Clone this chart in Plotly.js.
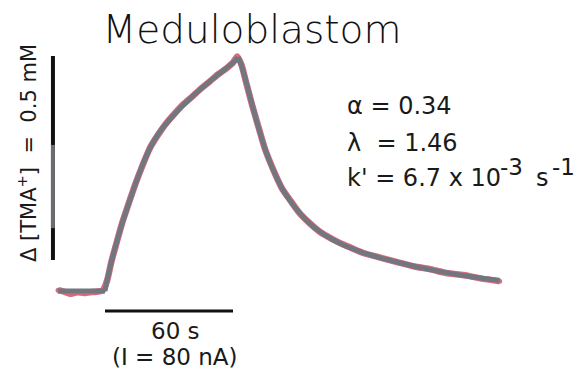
<!DOCTYPE html>
<html>
<head>
<meta charset="utf-8">
<script src="https://cdn.plot.ly/plotly-3.0.1.min.js"></script>
<style>
  html, body { margin: 0; padding: 0; background: #fff; }
  #chart { width: 581px; height: 369px; }
</style>
</head>
<body>
<div id="chart"></div>
<script>
// Time (s, 0 = start of ejection) and TMA+ concentration change (mM)
// Fitted diffusion curve
const fitT = [-22, -11, 0, 2, 4, 6, 8, 10, 12, 14, 16, 18, 20, 22, 25, 28, 32, 36, 40, 44, 48, 52, 56, 60, 62.3,
  63.5, 65, 67, 69, 71, 73, 75, 77, 80, 83, 86, 90, 94, 98, 102, 106, 112, 120, 128, 136, 144, 152, 160, 168, 176, 185];
const fitC = [0, 0, 0, 0.050, 0.092, 0.130, 0.165, 0.197, 0.228, 0.258, 0.287, 0.314, 0.338, 0.359, 0.385, 0.406,
  0.430, 0.452, 0.472, 0.491, 0.509, 0.526, 0.543, 0.559, 0.573,
  0.560, 0.535, 0.496, 0.456, 0.418, 0.382, 0.349, 0.320, 0.283, 0.252, 0.227, 0.199, 0.175, 0.156, 0.141, 0.128,
  0.112, 0.096, 0.083, 0.072, 0.062, 0.053, 0.045, 0.038, 0.032, 0.026];

// Measured concentration record
const measT = [-22, -19, -16, -13, -10, -7, -4, -1, 1, 3, 5, 8, 11, 14, 17, 21, 25, 29, 33, 37, 41, 45, 49, 53,
  57, 60, 62, 64, 66, 69, 72, 75, 79, 83, 87, 91, 96, 101, 107, 110, 114, 121, 129, 137, 145, 152, 160, 168, 176, 185];
const measC = [0.002, -0.002, -0.007, -0.003, -0.005, -0.003, -0.002, 0.002, 0.026, 0.072, 0.110, 0.166, 0.213,
  0.259, 0.300, 0.350, 0.384, 0.413, 0.437, 0.459, 0.477, 0.496, 0.513, 0.531, 0.546, 0.560, 0.575, 0.554, 0.514,
  0.455, 0.401, 0.348, 0.296, 0.251, 0.221, 0.192, 0.166, 0.144, 0.126, 0.118, 0.109, 0.093, 0.082, 0.071, 0.060,
  0.054, 0.044, 0.039, 0.031, 0.024];

// Scale bars
const timeBar = [0, 60];      // s
const concBar = 0.5;         // mM

const titleText = 'Meduloblastom';
const yLabel = 'Δ [TMA<sup>+</sup>]\u00a0 = \u00a00.5 mM';
const alphaText = 'α = 0.34';
const lambdaText = 'λ \u00a0= 1.46';
const rateText = "k' = 6.7 x 10";
const rateExp = '-3';
const rateUnit = 's';
const unitExp = '-1';
const timeLabel = '60 s';
const currentLabel = '(I = 80 nA)';

const W = 581, H = 369;
const px = x => x / W;
const py = y => 1 - y / H;

const barX = -24.4;          // time position of the concentration bar
const barBottom = 0.076;
const timeBarY = -0.049;

// split the fitted curve into baseline, rise and decay so that the
// corners at onset and at the end of ejection stay sharp
const onset = fitT.indexOf(0);
const peak = fitC.indexOf(Math.max(...fitC));
const fitLine = { color: '#72767e', width: 5 };
const fitSeg = (a, b, shape) => ({
  x: fitT.slice(a, b + 1), y: fitC.slice(a, b + 1), mode: 'lines',
  line: Object.assign({ shape: shape }, fitLine), hoverinfo: 'skip'
});

const traces = [
  {
    x: [barX, barX], y: [barBottom, barBottom + concBar], mode: 'lines',
    line: { color: '#111', width: 4 }, hoverinfo: 'skip'
  },
  {
    x: [barX, barX], y: [0.154, 0.358], mode: 'lines',
    line: { color: '#6b6b70', width: 4 }, hoverinfo: 'skip'
  },
  {
    x: timeBar, y: [timeBarY, timeBarY], mode: 'lines',
    line: { color: '#111', width: 3 }, hoverinfo: 'skip'
  },
  {
    x: measT, y: measC, mode: 'lines+markers',
    line: { color: '#d66c7c', width: 6.5, shape: 'spline', smoothing: 0.6 },
    marker: { color: '#d66c7c', size: 5 }
  },
  fitSeg(0, onset, 'linear'),
  fitSeg(onset, peak, 'spline'),
  fitSeg(peak, fitT.length - 1, 'spline')
];

const textFont = { family: 'DejaVu Sans, Liberation Sans, sans-serif', color: '#1a1a1a' };
const note = (text, x, y, size, xanchor, extra) => Object.assign({
  text: text, xref: 'paper', yref: 'paper', x: px(x), y: py(y),
  xanchor: xanchor, yanchor: 'middle', showarrow: false,
  font: Object.assign({ size: size }, textFont)
}, extra || {});

const annotations = [
  note(yLabel, 27, 153, 21, 'center', { textangle: -90 }),
  note(alphaText, 345, 106, 24, 'left'),
  note(lambdaText, 345, 143, 24, 'left'),
  note(rateText, 345, 178, 24, 'left'),
  note(rateExp, 498, 167, 23, 'left'),
  note(rateUnit, 534, 178, 24, 'left'),
  note(unitExp, 550, 167, 23, 'left'),
  note(timeLabel, 175, 331, 23, 'center'),
  note(currentLabel, 175, 357, 23, 'center')
];

const layout = {
  width: W, height: H,
  margin: { l: 0, r: 0, t: 0, b: 0 },
  paper_bgcolor: '#fff', plot_bgcolor: '#fff',
  showlegend: false,
  title: {
    text: titleText, x: px(252), y: py(29), xref: 'paper', yref: 'paper',
    xanchor: 'center', yanchor: 'middle',
    font: { family: 'DejaVu Sans, sans-serif', size: 39, color: '#111', weight: 300 }
  },
  xaxis: { range: [-49.22, 223.13], visible: false, fixedrange: true },
  yaxis: { range: [-0.1912, 0.7132], visible: false, fixedrange: true },
  annotations: annotations
};

Plotly.newPlot('chart', traces, layout, { staticPlot: true, displayModeBar: false });
</script>
</body>
</html>
